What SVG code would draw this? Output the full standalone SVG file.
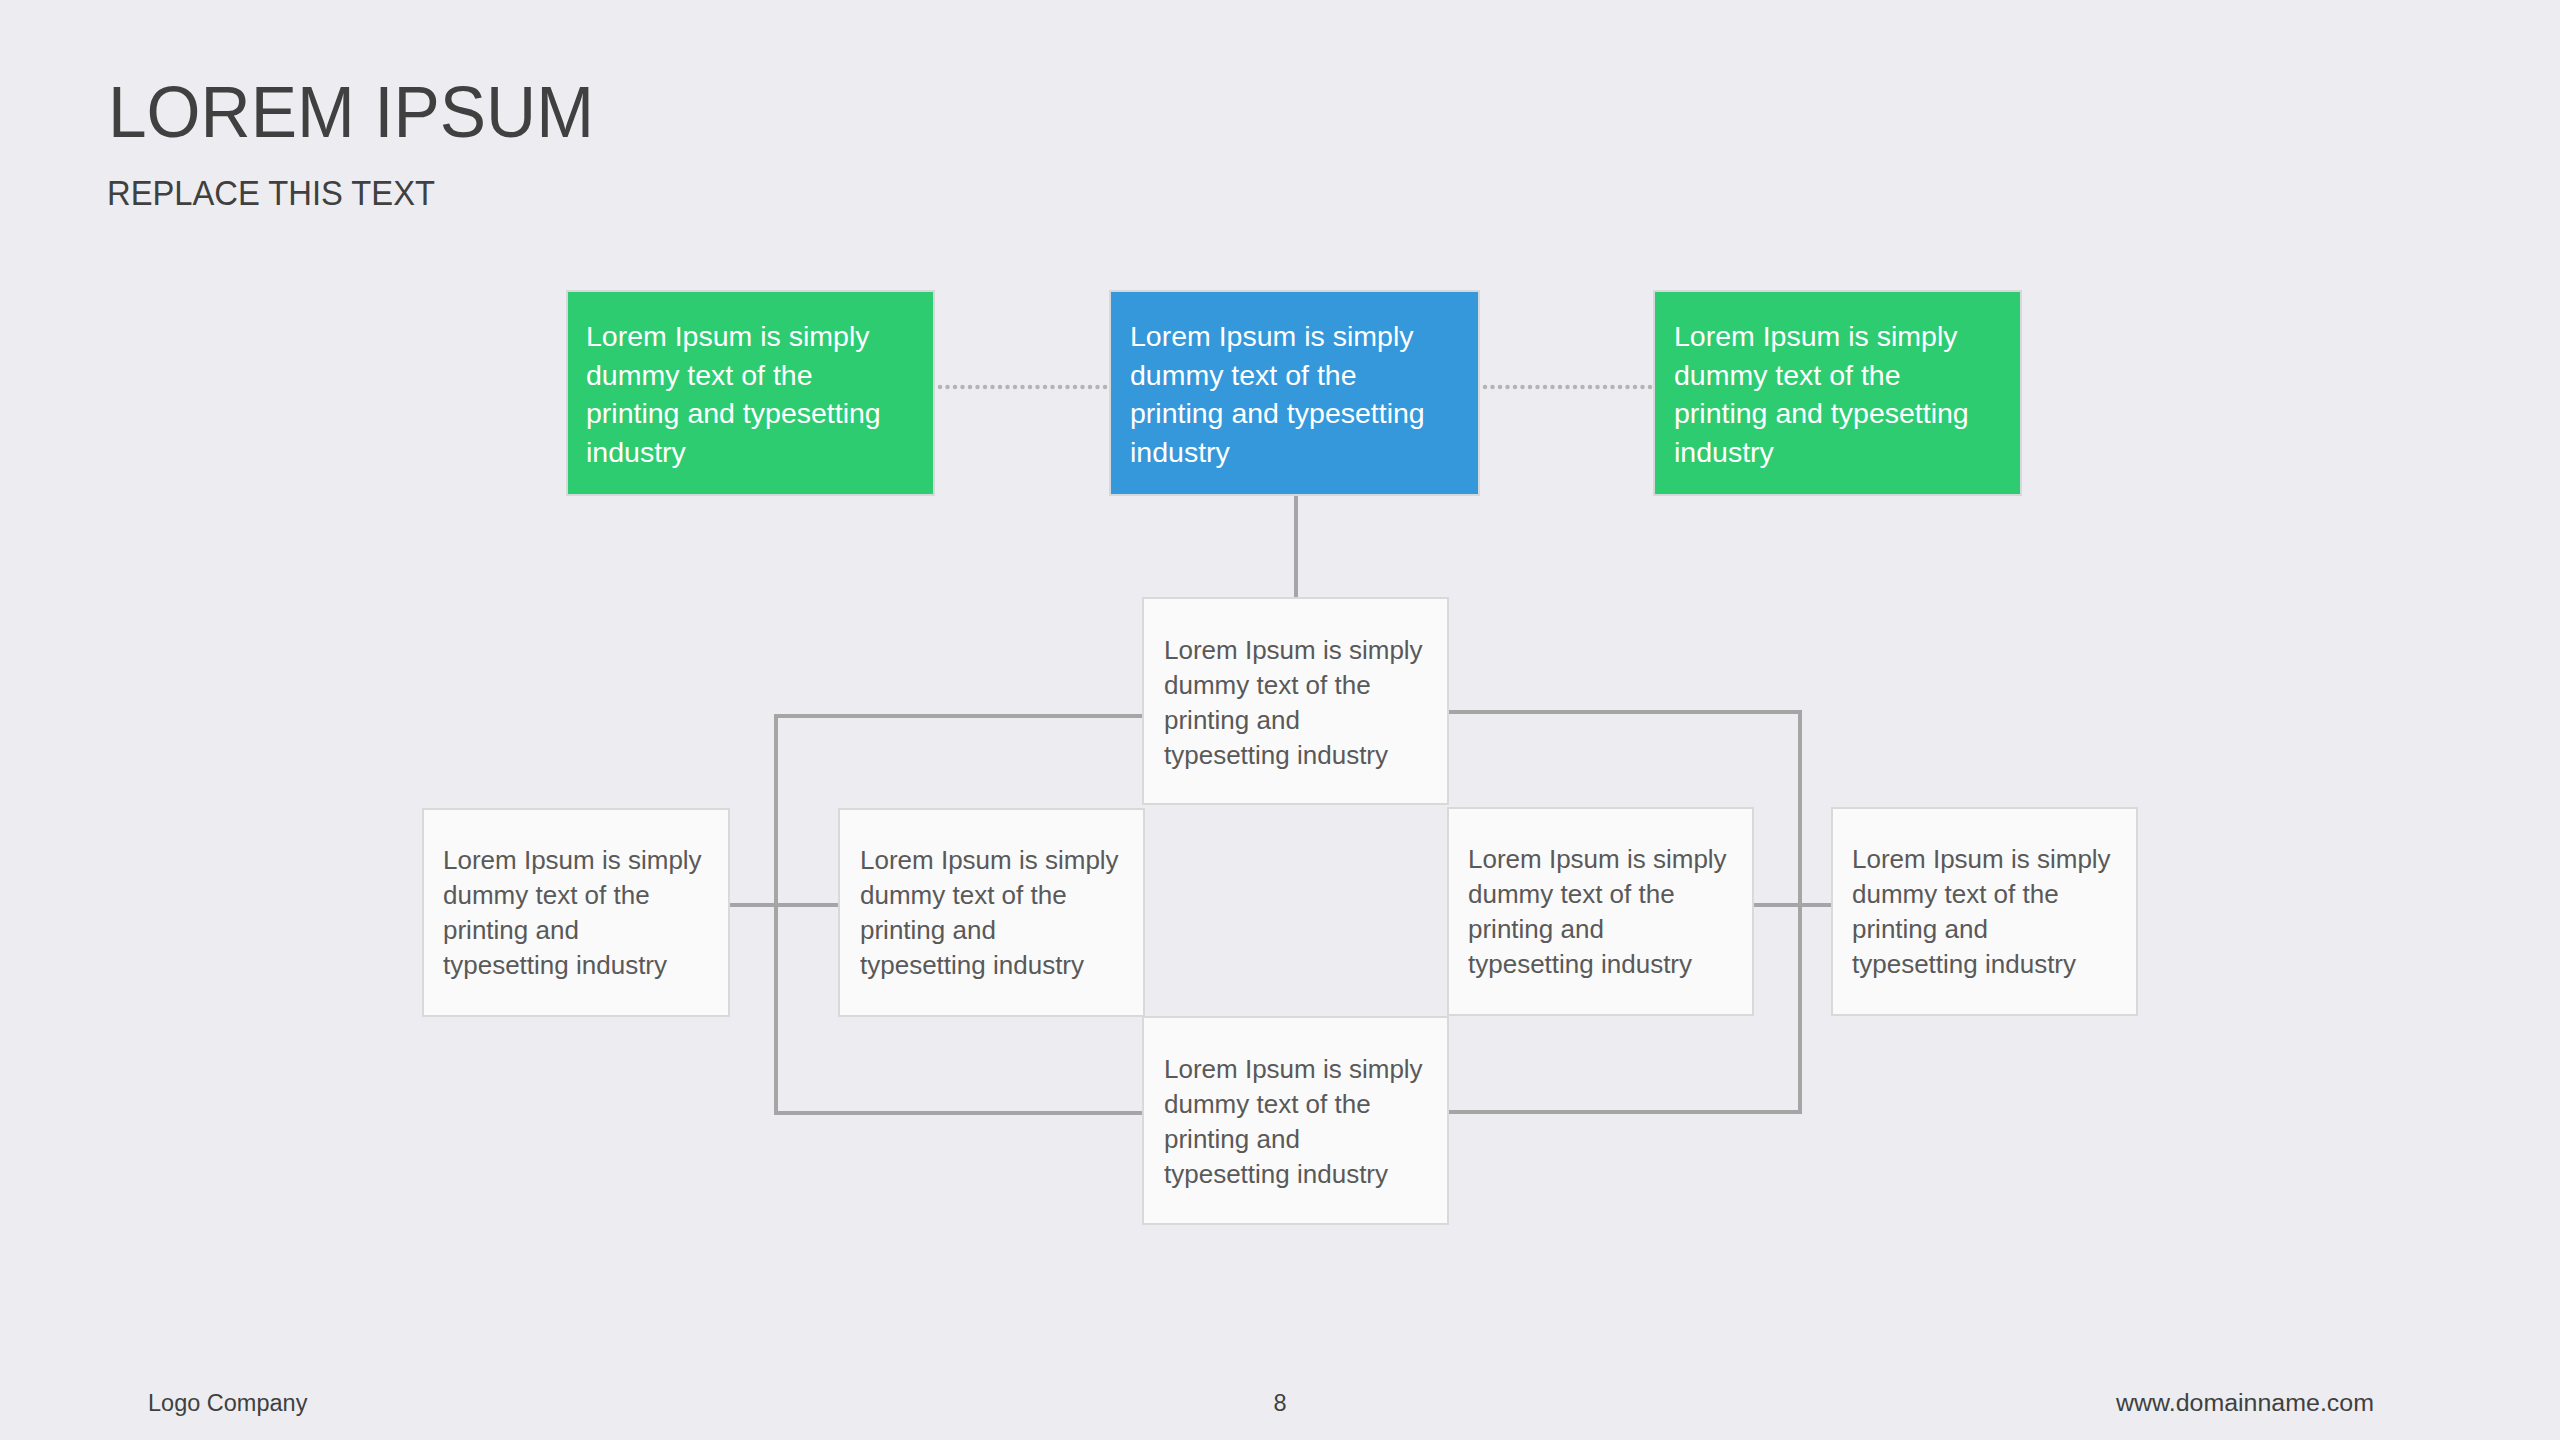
<svg xmlns="http://www.w3.org/2000/svg" width="2560" height="1440" viewBox="0 0 2560 1440">
<style>
.t{font-family:"Liberation Sans",Arial,sans-serif}
.title{font-size:72px;fill:#404040}
.sub{font-size:35px;fill:#404040}
.foot{font-size:23.5px;fill:#404040}
.cbox{stroke:#D6D9DC;stroke-width:2}
.wbox{fill:#FAFAFA;stroke:#D9D9D9;stroke-width:2}
.ctext{font-size:28.5px;fill:#FFFFFF}
.wtext{font-size:26px;fill:#595959}
.conn{fill:none;stroke:#A5A5A5;stroke-width:4;stroke-linejoin:miter}
.dot{fill:none;stroke:#B4B4B4;stroke-width:4.5;stroke-linecap:round;stroke-dasharray:0 7.5}
</style>
<rect x="0" y="0" width="2560" height="1440" fill="#EDEDF1"/>
<text class="t title" x="108" y="137" textLength="486" lengthAdjust="spacingAndGlyphs">LOREM IPSUM</text>
<text class="t sub" x="107" y="205" textLength="328" lengthAdjust="spacingAndGlyphs">REPLACE THIS TEXT</text>

<g id="connectors">
<line class="dot" x1="940" y1="387" x2="1106" y2="387"/>
<line class="dot" x1="1485" y1="387" x2="1651" y2="387"/>
<line class="conn" x1="1296" y1="496" x2="1296" y2="598"/>
<polyline class="conn" points="1143,716 776,716 776,1113 1143,1113"/>
<polyline class="conn" points="1448,712 1800,712 1800,1112 1448,1112"/>
<line class="conn" x1="729" y1="905" x2="839" y2="905"/>
<line class="conn" x1="1753" y1="905" x2="1831" y2="905"/>
</g>

<g id="node-green-left">
<rect class="cbox" x="567" y="291" width="367" height="204" fill="#2ECC71"/>
<text class="t ctext"><tspan x="586" y="346">Lorem Ipsum is simply</tspan><tspan x="586" y="384.5">dummy text of the</tspan><tspan x="586" y="423">printing and typesetting</tspan><tspan x="586" y="461.5">industry</tspan></text>
</g>
<g id="node-blue-center">
<rect class="cbox" x="1110" y="291" width="369" height="204" fill="#3498DB"/>
<text class="t ctext"><tspan x="1130" y="346">Lorem Ipsum is simply</tspan><tspan x="1130" y="384.5">dummy text of the</tspan><tspan x="1130" y="423">printing and typesetting</tspan><tspan x="1130" y="461.5">industry</tspan></text>
</g>
<g id="node-green-right">
<rect class="cbox" x="1654" y="291" width="367" height="204" fill="#2ECC71"/>
<text class="t ctext"><tspan x="1674" y="346">Lorem Ipsum is simply</tspan><tspan x="1674" y="384.5">dummy text of the</tspan><tspan x="1674" y="423">printing and typesetting</tspan><tspan x="1674" y="461.5">industry</tspan></text>
</g>

<g id="node-center-top">
<rect class="wbox" x="1143" y="598" width="305" height="206"/>
<text class="t wtext"><tspan x="1164" y="659">Lorem Ipsum is simply</tspan><tspan x="1164" y="694">dummy text of the</tspan><tspan x="1164" y="729">printing and</tspan><tspan x="1164" y="764">typesetting industry</tspan></text>
</g>
<g id="node-far-left">
<rect class="wbox" x="423" y="809" width="306" height="207"/>
<text class="t wtext"><tspan x="443" y="869">Lorem Ipsum is simply</tspan><tspan x="443" y="904">dummy text of the</tspan><tspan x="443" y="939">printing and</tspan><tspan x="443" y="974">typesetting industry</tspan></text>
</g>
<g id="node-inner-left">
<rect class="wbox" x="839" y="809" width="305" height="207"/>
<text class="t wtext"><tspan x="860" y="869">Lorem Ipsum is simply</tspan><tspan x="860" y="904">dummy text of the</tspan><tspan x="860" y="939">printing and</tspan><tspan x="860" y="974">typesetting industry</tspan></text>
</g>
<g id="node-inner-right">
<rect class="wbox" x="1448" y="808" width="305" height="207"/>
<text class="t wtext"><tspan x="1468" y="868">Lorem Ipsum is simply</tspan><tspan x="1468" y="903">dummy text of the</tspan><tspan x="1468" y="938">printing and</tspan><tspan x="1468" y="973">typesetting industry</tspan></text>
</g>
<g id="node-far-right">
<rect class="wbox" x="1832" y="808" width="305" height="207"/>
<text class="t wtext"><tspan x="1852" y="868">Lorem Ipsum is simply</tspan><tspan x="1852" y="903">dummy text of the</tspan><tspan x="1852" y="938">printing and</tspan><tspan x="1852" y="973">typesetting industry</tspan></text>
</g>
<g id="node-center-bottom">
<rect class="wbox" x="1143" y="1017" width="305" height="207"/>
<text class="t wtext"><tspan x="1164" y="1078">Lorem Ipsum is simply</tspan><tspan x="1164" y="1113">dummy text of the</tspan><tspan x="1164" y="1148">printing and</tspan><tspan x="1164" y="1183">typesetting industry</tspan></text>
</g>

<text class="t foot" x="148" y="1411">Logo Company</text>
<text class="t foot" x="1280" y="1411" text-anchor="middle">8</text>
<text class="t foot" x="2116" y="1411" textLength="258" lengthAdjust="spacingAndGlyphs">www.domainname.com</text>
</svg>
